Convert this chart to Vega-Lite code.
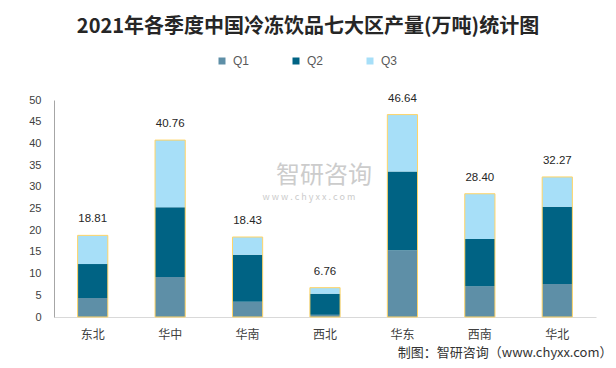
{
  "$schema": "https://vega.github.io/schema/vega-lite/v6.json",
  "autosize": "none",
  "width": 542,
  "height": 217,
  "padding": {"left": 54, "top": 100, "right": 20, "bottom": 51},
  "background": "white",
  "config": {"view": {"stroke": null}},
  "title": {
    "text": "2021年各季度中国冷冻饮品七大区产量(万吨)统计图",
    "font": "Noto Sans CJK SC",
    "fontSize": 20,
    "fontWeight": "bold",
    "color": "#262626",
    "anchor": "middle",
    "frame": "group",
    "dx": -17,
    "offset": 18
  },
  "datasets": {
    "quarters": [
      {"region": "东北", "quarter": "Q1", "value": 4.4},
      {"region": "东北", "quarter": "Q2", "value": 7.8},
      {"region": "东北", "quarter": "Q3", "value": 6.61},
      {"region": "华中", "quarter": "Q1", "value": 9.2},
      {"region": "华中", "quarter": "Q2", "value": 16.1},
      {"region": "华中", "quarter": "Q3", "value": 15.46},
      {"region": "华南", "quarter": "Q1", "value": 3.5},
      {"region": "华南", "quarter": "Q2", "value": 10.85},
      {"region": "华南", "quarter": "Q3", "value": 4.08},
      {"region": "西北", "quarter": "Q1", "value": 0.5},
      {"region": "西北", "quarter": "Q2", "value": 4.87},
      {"region": "西北", "quarter": "Q3", "value": 1.39},
      {"region": "华东", "quarter": "Q1", "value": 15.4},
      {"region": "华东", "quarter": "Q2", "value": 18.1},
      {"region": "华东", "quarter": "Q3", "value": 13.14},
      {"region": "西南", "quarter": "Q1", "value": 7.1},
      {"region": "西南", "quarter": "Q2", "value": 10.9},
      {"region": "西南", "quarter": "Q3", "value": 10.4},
      {"region": "华北", "quarter": "Q1", "value": 7.6},
      {"region": "华北", "quarter": "Q2", "value": 17.8},
      {"region": "华北", "quarter": "Q3", "value": 6.87}
    ],
    "totals": [
      {"region": "东北", "total": 18.81},
      {"region": "华中", "total": 40.76},
      {"region": "华南", "total": 18.43},
      {"region": "西北", "total": 6.76},
      {"region": "华东", "total": 46.64},
      {"region": "西南", "total": 28.40},
      {"region": "华北", "total": 32.27}
    ],
    "watermark": [
      {"region": "西北", "v": 32.6, "t": "智研咨询", "size": 24, "shift": 14},
      {"region": "西北", "v": 27.7, "t": "w w w . c h y x x . c o m", "size": 9, "shift": -1}
    ]
  },
  "layer": [
    {
      "data": {"name": "watermark"},
      "mark": {"type": "text", "font": "Noto Sans CJK SC", "color": "#cccccc", "baseline": "middle", "align": "center"},
      "encoding": {
        "x": {"field": "region", "type": "nominal", "sort": null},
        "y": {"field": "v", "type": "quantitative"},
        "text": {"field": "t"},
        "size": {"field": "size", "type": "quantitative", "scale": null},
        "xOffset": {"field": "shift", "type": "quantitative", "scale": null}
      }
    },
    {
      "data": {"name": "quarters"},
      "mark": {"type": "bar"},
      "encoding": {
        "x": {"field": "region", "type": "nominal", "sort": null},
        "y": {"field": "value", "type": "quantitative", "stack": "zero"},
        "color": {
          "field": "quarter",
          "type": "nominal",
          "scale": {"domain": ["Q1", "Q2", "Q3"], "range": ["#5E8FA7", "#006384", "#A7DFF8"]},
          "legend": {
            "orient": "none",
            "legendX": 162,
            "legendY": -45,
            "direction": "horizontal",
            "title": null,
            "symbolType": "square",
            "symbolSize": 49,
            "symbolStrokeWidth": 0,
            "labelFont": "Liberation Sans",
            "labelFontSize": 12,
            "labelColor": "#595959",
            "labelOffset": 5,
            "columnPadding": 40
          }
        },
        "order": {"field": "quarter", "sort": "ascending"}
      }
    },
    {
      "data": {"name": "totals"},
      "mark": {"type": "bar", "fillOpacity": 0, "stroke": "#FFD466", "strokeWidth": 1},
      "encoding": {
        "x": {"field": "region", "type": "nominal", "sort": null},
        "y": {"field": "total", "type": "quantitative"}
      }
    },
    {
      "data": {"name": "totals"},
      "mark": {"type": "text", "baseline": "bottom", "dy": -11, "font": "Liberation Sans", "fontSize": 11.5, "color": "#262626"},
      "encoding": {
        "x": {"field": "region", "type": "nominal", "sort": null},
        "y": {"field": "total", "type": "quantitative"},
        "text": {"field": "total", "type": "quantitative", "format": ".2f"}
      }
    }
  ],
  "resolve": {"scale": {"x": "shared", "y": "shared"}},
  "encoding": {
    "x": {
      "field": "region",
      "type": "nominal",
      "sort": null,
      "scale": {"domain": ["东北", "华中", "华南", "西北", "华东", "西南", "华北"], "paddingInner": 0.61, "paddingOuter": 0.305},
      "axis": {
        "title": "制图：智研咨询（www.chyxx.com）",
        "titleFont": "Noto Sans CJK SC",
        "titleFontSize": 13,
        "titleFontWeight": "normal",
        "titleColor": "#333333",
        "titleAlign": "right",
        "titleAnchor": null,
        "titleX": 558,
        "titleY": 35,
        "titleBaseline": "middle",
        "labelAngle": 0,
        "labelFont": "Noto Sans CJK SC",
        "labelFontSize": 12,
        "labelColor": "#404040",
        "labelPadding": 12,
        "ticks": false,
        "domainColor": "#D9D9D9",
        "grid": false
      }
    },
    "y": {
      "type": "quantitative",
      "scale": {"domain": [0, 50], "nice": false},
      "axis": {
        "title": null,
        "values": [0, 5, 10, 15, 20, 25, 30, 35, 40, 45, 50],
        "labelFont": "Liberation Sans",
        "labelFontSize": 11,
        "labelColor": "#404040",
        "labelPadding": 13,
        "ticks": false,
        "domainColor": "#A6A6A6",
        "grid": false
      }
    }
  }
}
